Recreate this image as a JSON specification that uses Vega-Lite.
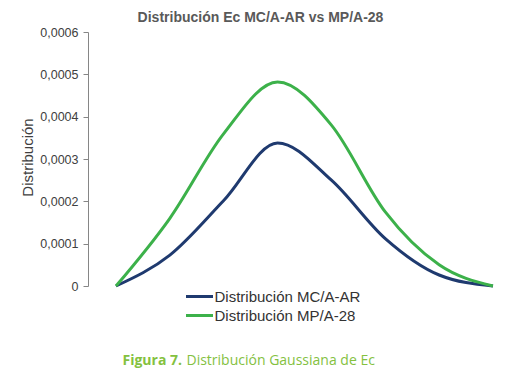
{
  "$schema": "https://vega.github.io/schema/vega-lite/v6.json",
  "width": 415,
  "height": 254,
  "autosize": {"type": "none"},
  "padding": {"left": 88, "top": 32, "right": 2, "bottom": 88},
  "background": "white",
  "title": {
    "text": "Distribución Eᴄ MC/A-AR vs MP/A-28",
    "anchor": "middle",
    "dx": -35,
    "offset": 1,
    "font": "Liberation Sans",
    "fontSize": 14,
    "fontWeight": "bold",
    "color": "#595959"
  },
  "data": {
    "values": [
      {"x": 1, "serie": "Distribución MC/A-AR", "value": 0},
      {"x": 2, "serie": "Distribución MC/A-AR", "value": 0.000073},
      {"x": 3, "serie": "Distribución MC/A-AR", "value": 0.000202},
      {"x": 4, "serie": "Distribución MC/A-AR", "value": 0.000338},
      {"x": 5, "serie": "Distribución MC/A-AR", "value": 0.00025},
      {"x": 6, "serie": "Distribución MC/A-AR", "value": 0.000112},
      {"x": 7, "serie": "Distribución MC/A-AR", "value": 0.000026},
      {"x": 8, "serie": "Distribución MC/A-AR", "value": 0},
      {"x": 1, "serie": "Distribución MP/A-28", "value": 0},
      {"x": 2, "serie": "Distribución MP/A-28", "value": 0.00016},
      {"x": 3, "serie": "Distribución MP/A-28", "value": 0.00036},
      {"x": 4, "serie": "Distribución MP/A-28", "value": 0.000482},
      {"x": 5, "serie": "Distribución MP/A-28", "value": 0.00038},
      {"x": 6, "serie": "Distribución MP/A-28", "value": 0.000175},
      {"x": 7, "serie": "Distribución MP/A-28", "value": 0.00005},
      {"x": 8, "serie": "Distribución MP/A-28", "value": 0}
    ]
  },
  "layer": [
    {
      "mark": {"type": "line", "interpolate": "monotone", "strokeWidth": 3},
      "encoding": {
        "x": {
          "field": "x",
          "type": "quantitative",
          "scale": {"domain": [0.48, 8.186], "nice": false, "zero": false},
          "axis": {
            "domain": false, "ticks": false, "labels": false, "grid": false,
            "title": "Figura 7.",
            "titleColor": "#84c13f",
            "titleFont": "Open Sans",
            "titleFontSize": 14,
            "titleFontWeight": "bold",
            "titleX": 34,
            "titleY": 78,
            "titleAlign": "left",
            "titleAnchor": null,
            "titleBaseline": "alphabetic"
          }
        },
        "y": {
          "field": "value",
          "type": "quantitative",
          "scale": {"domain": [0, 0.0006], "nice": false},
          "axis": {
            "values": [0, 0.0001, 0.0002, 0.0003, 0.0004, 0.0005, 0.0006],
            "labelExpr": "replace(format(datum.value, '.4~f'), '.', ',')",
            "grid": false,
            "domainColor": "#868686",
            "tickColor": "#868686",
            "tickSize": 5,
            "labelPadding": 5,
            "labelFont": "Liberation Sans",
            "labelFontSize": 12.5,
            "labelColor": "#404040",
            "title": "Distribución",
            "titleFont": "Liberation Sans",
            "titleFontSize": 15,
            "titleFontWeight": "normal",
            "titleColor": "#404040",
            "titleX": -61,
            "titleY": 125,
            "titleAngle": -90,
            "titleAlign": "center",
            "titleBaseline": "middle"
          }
        },
        "color": {
          "field": "serie",
          "type": "nominal",
          "scale": {
            "domain": ["Distribución MC/A-AR", "Distribución MP/A-28"],
            "range": ["#1f3a6f", "#3cb14a"]
          },
          "legend": {
            "orient": "none",
            "legendX": 104,
            "legendY": 257,
            "title": null,
            "padding": 0,
            "symbolType": "M-3,0H3",
            "symbolSize": 81,
            "symbolStrokeWidth": 3,
            "symbolOffset": 0,
            "labelOffset": 7.5,
            "rowPadding": 3,
            "labelFont": "Liberation Sans",
            "labelFontSize": 15,
            "labelColor": "#333333",
            "labelBaseline": "middle"
          }
        }
      }
    },
    {
      "mark": {"type": "line", "interpolate": "monotone", "opacity": 0},
      "encoding": {
        "x": {"field": "x", "type": "quantitative"},
        "y": {
          "field": "value",
          "type": "quantitative",
          "scale": {"domain": [0, 0.0006], "nice": false},
          "axis": {
            "orient": "right",
            "domain": false, "ticks": false, "labels": false, "grid": false,
            "title": "Distribución Gaussiana de Ec",
            "titleColor": "#84c13f",
            "titleFont": "Open Sans",
            "titleFontSize": 14,
            "titleFontWeight": 500,
            "titleAngle": 0,
            "titleX": -317,
            "titleY": 332,
            "titleAlign": "left",
            "titleAnchor": null,
            "titleBaseline": "alphabetic"
          }
        },
        "detail": {"field": "serie", "type": "nominal"}
      }
    }
  ],
  "resolve": {"scale": {"y": "independent"}, "axis": {"y": "independent"}},
  "config": {"view": {"stroke": null}}
}
